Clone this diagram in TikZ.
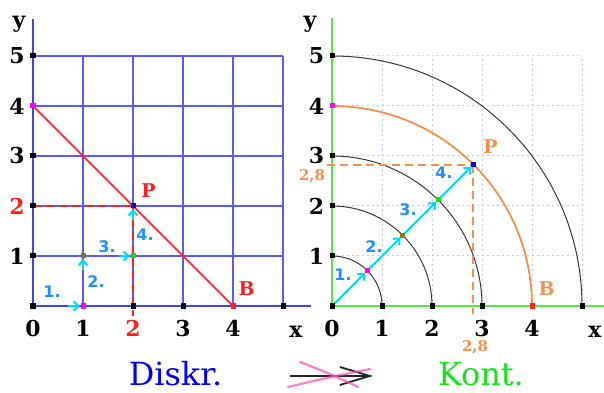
\documentclass[tikz,border=0pt]{standalone}
\usepackage{fontspec}
\setmainfont{DejaVu Serif}
\setsansfont{DejaVu Sans}
\usetikzlibrary{arrows.meta}
\definecolor{gridblue}{rgb}{0.35,0.35,1}
\definecolor{axblue}{rgb}{0.25,0.25,1}
\definecolor{axgreen}{rgb}{0.35,0.9,0.27}
\definecolor{cyanA}{rgb}{0,0.85,1}
\definecolor{lblblue}{rgb}{0.12,0.56,1}
\definecolor{redA}{rgb}{1,0.12,0.12}
\definecolor{orangeA}{rgb}{0.96,0.57,0.3}
\definecolor{oliveA}{rgb}{0.5,0.5,0}
\definecolor{greenA}{rgb}{0,0.92,0}
\definecolor{magA}{rgb}{1,0,1}
\definecolor{dotgrid}{rgb}{0.78,0.78,0.98}
\definecolor{dotbeige}{rgb}{0.9,0.84,0.7}
\definecolor{arcgray}{rgb}{0.22,0.22,0.22}
\definecolor{pinkX}{rgb}{1,0.3,0.68}
\definecolor{kontgreen}{rgb}{0.08,0.9,0.08}
\tikzset{
  pt/.style={rectangle,fill=#1,inner sep=0pt,minimum size=5bp},
  pt/.default=black,
  num/.style={font=\bfseries\fontsize{22}{24}\selectfont,inner sep=0pt},
  smalllbl/.style={font=\bfseries\fontsize{19}{21}\selectfont,inner sep=0pt},
  steplbl/.style={font=\sffamily\bfseries\fontsize{16}{18}\selectfont,text=lblblue,inner sep=0pt},
  arr/.style={draw=cyanA,line width=2bp,-{Straight Barb[length=5bp,width=9bp]}},
  gridline/.style={draw=gridblue,line width=1.2bp},
  dotline/.style={draw=dotgrid,line width=1bp,dash pattern=on 2bp off 3bp},
  reddash/.style={draw=redA,line width=2bp,dash pattern=on 8bp off 5bp},
  orangedash/.style={draw=orangeA,line width=2bp,dash pattern=on 8bp off 5bp},
  arcline/.style={draw=arcgray,line width=1bp},
  bigword/.style={font=\fontsize{32}{34}\selectfont,inner sep=0pt,anchor=base},
}
\begin{document}
\begin{tikzpicture}[x=50bp,y=50bp]
\useasboundingbox (-0.66,-1.74) rectangle (11.42,6.12);
% ================= LEFT PANEL =================
\begin{scope}
  \foreach \i in {1,...,5} {
    \draw[gridline] (\i,0) -- (\i,5);
    \draw[gridline] (0,\i) -- (5,\i);
  }
  \coordinate (L00) at (0,0);
  \coordinate (L10) at (1,0);
  \coordinate (L20) at (2,0);
  \coordinate (L30) at (3,0);
  \coordinate (L40) at (4,0);
  \coordinate (L50) at (5,0);
  \coordinate (L01) at (0,1);
  \coordinate (L02) at (0,2);
  \coordinate (L03) at (0,3);
  \coordinate (L04) at (0,4);
  \coordinate (L05) at (0,5);
  \coordinate (L11) at (1,1);
  \coordinate (L21) at (2,1);
  \coordinate (L22) at (2,2);
  \coordinate (Lxend) at (5.55,0);
  \coordinate (Lyend) at (0,5.74);
  \coordinate (Ldown) at (2,-0.2);
  \draw[draw=axblue,line width=1.8bp] (L00) -- (Lxend);
  \draw[draw=axblue,line width=1.8bp] (L00) -- (Lyend);
  \draw[draw=redA,line width=1.6bp] (L04) -- (L40);
  \draw[reddash] (L02) -- (L22);
  \draw[reddash] (L22) -- (Ldown);
  % steps
  \draw[arr,shorten <=35bp,shorten >=3bp] (L00) -- (L10);
  \draw[arr,shorten <=36bp,shorten >=3bp] (L10) -- (L11);
  \draw[arr,shorten <=36bp,shorten >=3bp] (L11) -- (L21);
  \draw[arr,shorten <=36bp,shorten >=3bp] (L21) -- (L22);
  % points
  \node[pt] (pL00) at (L00) {};
  \node[pt=magA] (pL10) at (L10) {};
  \node[pt] (pL20) at (L20) {};
  \node[pt] (pL30) at (L30) {};
  \node[pt=redA] (pL40) at (L40) {};
  \node[pt] (pL50) at (L50) {};
  \node[pt] (pL01) at (L01) {};
  \node[pt] (pL02) at (L02) {};
  \node[pt] (pL03) at (L03) {};
  \node[pt=magA] (pL04) at (L04) {};
  \node[pt] (pL05) at (L05) {};
  \node[pt=oliveA] (pL11) at (L11) {};
  \node[pt=greenA] (pL21) at (L21) {};
  \node[pt=blue] (pL22) at (L22) {};
  % labels
  \node[num] (lx0) at (0,-0.45) {0};
  \node[num] (lx1) at (1,-0.45) {1};
  \node[num,text=redA] (lx2) at (2,-0.45) {2};
  \node[num] (lx3) at (3,-0.45) {3};
  \node[num] (lx4) at (4,-0.45) {4};
  \node[num,anchor=base] (lxx) at (5.26,-0.62) {x};
  \node[num] (ly1) at (-0.32,1) {1};
  \node[num,text=redA] (ly2) at (-0.32,2) {2};
  \node[num] (ly3) at (-0.32,3) {3};
  \node[num] (ly4) at (-0.32,4) {4};
  \node[num] (ly5) at (-0.32,5) {5};
  \node[num,anchor=base] (lyy) at (-0.28,5.56) {y};
  \node[smalllbl,text=redA] (lP) at (2.31,2.31) {P};
  \node[smalllbl,text=redA] (lB) at (4.27,0.35) {B};
  \node[steplbl] (ls1) at (0.38,0.28) {1.};
  \node[steplbl] (ls2) at (1.26,0.48) {2.};
  \node[steplbl] (ls3) at (1.48,1.18) {3.};
  \node[steplbl] (ls4) at (2.24,1.42) {4.};
\end{scope}
% ================= RIGHT PANEL =================
\begin{scope}[shift={(5.98,0)}]
  \foreach \i in {1,...,5} {
    \draw[dotline] (\i,0) -- (\i,5);
  }
  \foreach \i in {1,...,4} {
    \draw[dotline] (0,\i) -- (5,\i);
  }
  \draw[dotline,draw=dotbeige] (0,5) -- (5,5);
  \draw[arcline] (1,0) arc[start angle=0,end angle=90,radius=1];
  \draw[arcline] (2,0) arc[start angle=0,end angle=90,radius=2];
  \draw[arcline] (3,0) arc[start angle=0,end angle=90,radius=3];
  \draw[arcline] (5,0) arc[start angle=0,end angle=90,radius=5];
  \draw[draw=orangeA,line width=1.8bp] (4,0) arc[start angle=0,end angle=90,radius=4];
  \coordinate (R00) at (0,0);
  \coordinate (R10) at (1,0);
  \coordinate (R20) at (2,0);
  \coordinate (R30) at (3,0);
  \coordinate (R40) at (4,0);
  \coordinate (R50) at (5,0);
  \coordinate (R01) at (0,1);
  \coordinate (R02) at (0,2);
  \coordinate (R03) at (0,3);
  \coordinate (R04) at (0,4);
  \coordinate (R05) at (0,5);
  \coordinate (Rd1) at (0.7071,0.7071);
  \coordinate (Rd2) at (1.4142,1.4142);
  \coordinate (Rd3) at (2.1213,2.1213);
  \coordinate (Rd4) at (2.8284,2.8284);
  \coordinate (Rxend) at (5.5,0);
  \coordinate (Ryend) at (0,5.76);
  \coordinate (Rleft) at (-0.1,2.8284);
  \coordinate (Rdown) at (2.8284,-0.16);
  \draw[draw=axgreen,line width=1.8bp] (R00) -- (Rxend);
  \draw[draw=axgreen,line width=1.8bp] (R00) -- (Ryend);
  \draw[orangedash] (Rleft) -- (Rd4);
  \draw[orangedash] (Rd4) -- (Rdown);
  \draw[arr,shorten >=3bp] (R00) -- (Rd1);
  \draw[arr,shorten >=3bp] (Rd1) -- (Rd2);
  \draw[arr,shorten >=3bp] (Rd2) -- (Rd3);
  \draw[arr,shorten >=3bp] (Rd3) -- (Rd4);
  \node[pt] (pR00) at (R00) {};
  \node[pt] (pR10) at (R10) {};
  \node[pt] (pR20) at (R20) {};
  \node[pt] (pR30) at (R30) {};
  \node[pt=redA] (pR40) at (R40) {};
  \node[pt] (pR50) at (R50) {};
  \node[pt] (pR01) at (R01) {};
  \node[pt] (pR02) at (R02) {};
  \node[pt] (pR03) at (R03) {};
  \node[pt=magA] (pR04) at (R04) {};
  \node[pt] (pR05) at (R05) {};
  \node[pt=magA] (pRd1) at (Rd1) {};
  \node[pt=oliveA] (pRd2) at (Rd2) {};
  \node[pt=greenA] (pRd3) at (Rd3) {};
  \node[pt=blue] (pRd4) at (Rd4) {};
  \node[num] (rx0) at (0,-0.45) {0};
  \node[num] (rx1) at (1,-0.45) {1};
  \node[num] (rx2) at (2,-0.45) {2};
  \node[num] (rx3) at (3,-0.45) {3};
  \node[num] (rx4) at (4,-0.45) {4};
  \node[num,anchor=base] (rxx) at (5.26,-0.62) {x};
  \node[num] (ry1) at (-0.31,1) {1};
  \node[num] (ry2) at (-0.31,2) {2};
  \node[num] (ry3) at (-0.31,3) {3};
  \node[num] (ry4) at (-0.31,4) {4};
  \node[num] (ry5) at (-0.31,5) {5};
  \node[num,anchor=base] (ryy) at (-0.44,5.56) {y};
  \node[smalllbl,text=orangeA] (rP) at (3.17,3.19) {P};
  \node[smalllbl,text=orangeA] (rB) at (4.29,0.35) {B};
  \node[smalllbl,text=orangeA,font=\bfseries\fontsize{15}{17}\selectfont] (r28a) at (-0.4,2.6) {2,8};
  \node[smalllbl,text=orangeA,font=\bfseries\fontsize{15}{17}\selectfont] (r28b) at (2.86,-0.82) {2,8};
  \node[steplbl] (rs1) at (0.22,0.62) {1.};
  \node[steplbl] (rs2) at (0.84,1.18) {2.};
  \node[steplbl] (rs3) at (1.52,1.92) {3.};
  \node[steplbl] (rs4) at (2.24,2.66) {4.};
\end{scope}
% ================= BOTTOM =================
\node[bigword,text=blue] (diskr) at (2.85,-1.58) {Diskr.};
\node[bigword,text=kontgreen] (kont) at (8.96,-1.58) {Kont.};
\coordinate (m1) at (5.14,-1.40);
\coordinate (m2) at (6.80,-1.40);
\draw[draw=black!85,line width=1.8bp,-{Straight Barb[length=30bp,width=18bp,line width=1.8bp]}] (m1) -- (m2);
\coordinate (xa1) at (5.34,-1.12);
\coordinate (xa2) at (6.50,-1.62);
\coordinate (xb1) at (5.10,-1.62);
\coordinate (xb2) at (6.74,-1.26);
\draw[draw=pinkX,line width=2.2bp,opacity=0.7,line cap=round] (xa1) .. controls (5.95,-1.36) .. (xa2);
\draw[draw=pinkX,line width=2.2bp,opacity=0.7,line cap=round] (xb1) .. controls (5.95,-1.42) .. (xb2);
\end{tikzpicture}
\end{document}
